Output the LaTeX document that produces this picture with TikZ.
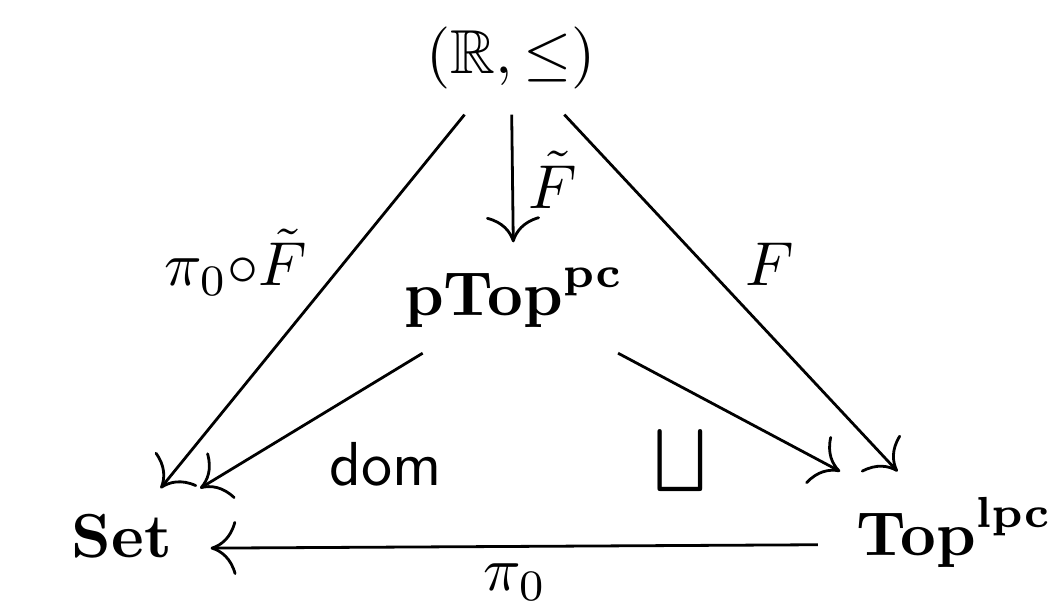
\documentclass[tikz,border=0pt]{standalone}
\usepackage{amsmath,amssymb}
\usepackage{tikz}
\usetikzlibrary{arrows.meta}
\newcommand{\catSet}{\mathbf{Set}}
\newcommand{\catTop}{\mathbf{Top}}

\begin{document}
\begin{tikzpicture}[x=0.161pt,y=-0.161pt,
  every node/.style={inner xsep=6pt,inner ysep=4pt},
  lbl/.style={inner sep=1pt},
  cd/.style={-{To[scale=1.6]},line width=0.45pt}]
\useasboundingbox (0,0) rectangle (1054,601);
% objects
\node[anchor=base] (RR) at (511,73) {$(\mathbb{R},\leq)$};
\node[anchor=base] (pTop) at (514,315) {$\mathbf{p}\catTop^{\mathbf{pc}}$};
\node[anchor=base] (Set) at (122,557) {$\catSet$};
\node[anchor=base west] (Top) at (818,555) {$\catTop^{\mathbf{lpc}}$};
% morphisms
\draw[cd] (RR) -- (pTop);
\draw[cd] (RR) -- (Set);
\draw[cd] (RR) -- (Top);
\draw[cd] (pTop) -- (Set);
\draw[cd] (pTop) -- (Top);
\draw[cd] ([yshift=-2pt]Top.west) -- ([yshift=-2pt]Set.east);
% labels
\node[lbl] (lFt) at (553,180) {$\tilde F$};
\node[lbl] (lpiF) at (236,262) {$\pi_0{\circ}\tilde F$};
\node[lbl] (lF) at (770,264) {$F$};
\node[lbl] (ldom) at (386,464) {$\mathsf{dom}$};
\node[lbl] (lsq) at (680,461) {$\bigsqcup$};
\node[lbl] (lpi) at (515,582) {$\pi_0$};
\end{tikzpicture}
\end{document}
